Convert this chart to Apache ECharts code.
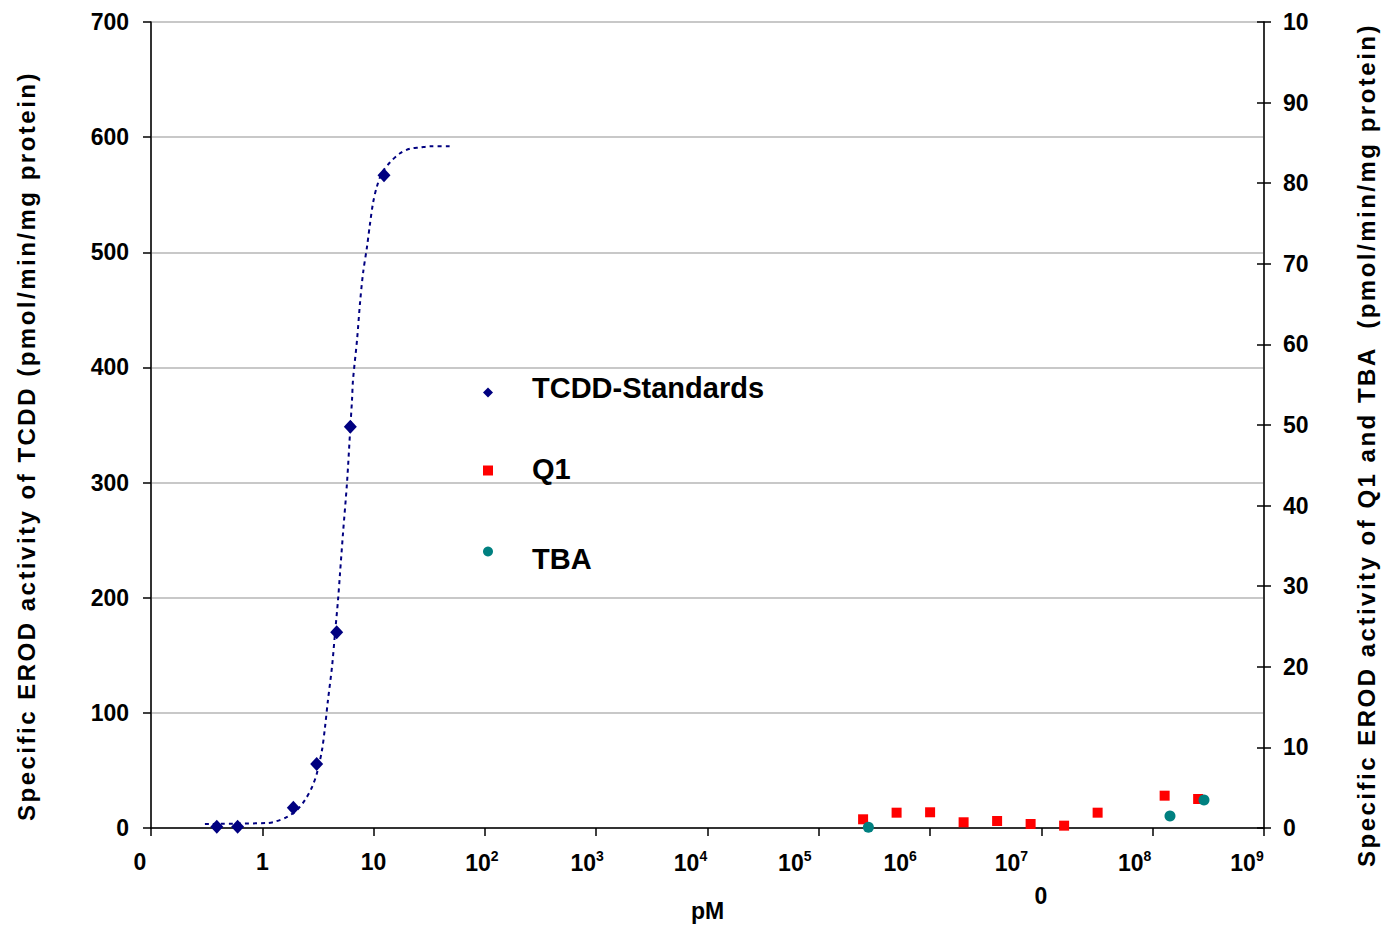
<!DOCTYPE html>
<html><head><meta charset="utf-8">
<script src="https://cdn.jsdelivr.net/npm/echarts@6/dist/echarts.min.js"></script>
<style>html,body{margin:0;padding:0;background:#fff}#c{width:1386px;height:928px}</style>
</head><body><div id="c"></div>
<script>
// ---- data ----
const tcddConc = [0.39, 0.6, 1.9, 3.08, 4.66, 6.18, 12.4];
const tcddActivity = [1, 1, 17.5, 55.6, 170, 348.5, 567];
const fitConc = [0.305, 1.10, 1.30, 1.67, 2.05, 2.42, 2.80, 3.10, 3.44, 3.66, 3.89, 4.23, 4.50, 4.79, 4.99, 5.31, 5.77, 6.18, 6.40, 6.53, 7.10, 7.55, 8.04, 8.73, 9.29, 9.89, 10.7, 11.9, 14.0, 17.3, 21.2, 26.1, 32.1, 50.6];
const fitActivity = [3.5, 4.3, 5.5, 9.6, 15.6, 24.3, 35.6, 47.8, 67.7, 87.7, 111, 140, 169, 198, 221, 256, 300, 348, 372, 389, 424, 456, 482, 505, 525, 543, 557, 569, 578, 586, 590, 591, 592, 592];
const q1Conc = [2.5e5, 5e5, 1e6, 2e6, 4e6, 8e6, 1.6e7, 3.2e7, 1.28e8, 2.56e8];
const q1Activity = [1.08, 1.9, 1.95, 0.71, 0.87, 0.5, 0.29, 1.9, 4.01, 3.6];
const tbaConc = [2.79e5, 1.43e8, 2.89e8];
const tbaActivity = [0.1, 1.49, 3.47];

const xTickExponents = [-1, 0, 1, 2, 3, 4, 5, 6, 7, 8, 9];
const xTickMain = ['0', '1', '10', '10', '10', '10', '10', '10', '10', '10', '10'];
const xTickSup  = ['', '', '', '2', '3', '4', '5', '6', '7', '8', '9'];
const rightTickValues = [0, 10, 20, 30, 40, 50, 60, 70, 80, 90, 100];
const rightTickLabels = ['0', '10', '20', '30', '40', '50', '60', '70', '80', '90', '10'];
const seriesNames = ['TCDD-Standards', 'Q1', 'TBA'];
const leftTitle = 'Specific EROD activity of TCDD (pmol/min/mg protein)';
const rightTitle = 'Specific EROD activity of Q1 and TBA  (pmol/min/mg protein)';
const xName = 'pM';
const extraLabel = '0';

// ---- layout (not data) ----
const xLabelSpacer = [22, 0, 0, 6, 18, 34, 48, 60, 60, 36, 34];
const FONT = "'Liberation Sans', Arial, sans-serif";
const legendIcons = ['diamond', 'rect', 'circle'];
const legendTops = [368, 449, 525];
const legendTextPad = [[0, 0, 10, 0], [0, 0, 4, 0], [14, 0, 0, 0]];

const pairs = (xs, ys) => xs.map((x, i) => [x, ys[i]]);

const rich = {
  m: {fontSize: 23, fontWeight: 'bold', fontFamily: FONT, color: '#000', lineHeight: 26},
  s: {fontSize: 14, fontWeight: 'bold', fontFamily: FONT, color: '#000', padding: [0, 0, 13, 0]}
};
xLabelSpacer.forEach((w, i) => { if (w > 0) rich['g' + i] = {width: w, fontSize: 10}; });

const legends = seriesNames.map((n, i) => ({
  orient: 'vertical', left: 478, top: legendTops[i], itemWidth: 10, itemHeight: 10,
  data: [{name: n, icon: legendIcons[i]}],
  formatter: function (name) { return '{g| }{t|' + name + '}'; },
  textStyle: {rich: {
    g: {width: 34, fontSize: 10},
    t: {fontSize: 29, fontWeight: 'bold', fontFamily: FONT, color: '#000', lineHeight: 32, padding: legendTextPad[i]}
  }},
  selectedMode: false
}));

const chart = echarts.init(document.getElementById('c'), null, {renderer: 'svg'});
chart.setOption({
  animation: false,
  backgroundColor: '#fff',
  grid: {left: 151, right: 122, top: 22, bottom: 100, show: true, borderColor: '#8c8c8c', borderWidth: 1},
  xAxis: {
    type: 'log', logBase: 10, min: 0.1, max: 1e9, interval: 1, splitNumber: 10,
    name: xName, nameLocation: 'middle', nameGap: 71,
    nameTextStyle: {fontSize: 23, fontWeight: 'bold', fontFamily: FONT, color: '#000'},
    axisLine: {lineStyle: {color: '#000', width: 1.5}},
    axisTick: {show: true, length: 8, lineStyle: {color: '#000', width: 1.5}},
    splitLine: {show: false},
    minorTick: {show: false},
    axisLabel: {
      margin: 21, rich: rich,
      formatter: function (v) {
        const e = Math.round(Math.log10(v));
        const i = xTickExponents.indexOf(e);
        if (i < 0) return '';
        let s = '{m|' + xTickMain[i] + '}';
        if (xTickSup[i]) s += '{s|' + xTickSup[i] + '}';
        if (xLabelSpacer[i] > 0) s += '{g' + i + '| }';
        return s;
      }
    }
  },
  yAxis: [
    {
      type: 'value', position: 'left', min: 0, max: 700, interval: 100,
      axisLine: {show: true, lineStyle: {color: '#000', width: 1.5}},
      axisTick: {show: true, length: 8, lineStyle: {color: '#000', width: 1.5}},
      axisLabel: {margin: 22, fontSize: 23, fontWeight: 'bold', fontFamily: FONT, color: '#000'},
      splitLine: {show: true, lineStyle: {color: '#c8c8c8', width: 2}}
    },
    {
      type: 'value', position: 'right', offset: 0, min: 0, max: 100, interval: 10,
      axisLine: {show: true, lineStyle: {color: '#000', width: 1.5}},
      axisTick: {show: true, length: 7, lineStyle: {color: '#000', width: 1.5}},
      axisLabel: {margin: 19, fontSize: 23, fontWeight: 'bold', fontFamily: FONT, color: '#000',
        formatter: function (v) { const i = rightTickValues.indexOf(Math.round(v)); return i < 0 ? '' : rightTickLabels[i]; }},
      splitLine: {show: false}
    },
    {
      type: 'value', position: 'right', offset: 0, min: 0, max: 100, interval: 10,
      axisLine: {show: false},
      axisTick: {show: true, inside: true, length: 7, lineStyle: {color: '#000', width: 1.5}},
      axisLabel: {show: false},
      splitLine: {show: false}
    }
  ],
  legend: legends,
  series: [
    {
      name: 'TCDD fit', type: 'line', xAxisIndex: 0, yAxisIndex: 0,
      data: pairs(fitConc, fitActivity), smooth: 0.3, showSymbol: false, symbol: 'none',
      lineStyle: {color: '#000080', width: 2, type: [4, 4]}, z: 2, silent: true
    },
    {
      name: seriesNames[0], type: 'scatter', yAxisIndex: 0, data: pairs(tcddConc, tcddActivity),
      symbol: 'diamond', symbolSize: [13, 14], itemStyle: {color: '#000080', opacity: 1}, z: 3
    },
    {
      name: seriesNames[1], type: 'scatter', yAxisIndex: 1, data: pairs(q1Conc, q1Activity),
      symbol: 'rect', symbolSize: 10, itemStyle: {color: '#ff0000', opacity: 1}, z: 3
    },
    {
      name: seriesNames[2], type: 'scatter', yAxisIndex: 1, data: pairs(tbaConc, tbaActivity),
      symbol: 'circle', symbolSize: 11, itemStyle: {color: '#008080', opacity: 1}, z: 4
    }
  ],
  graphic: [
    {type: 'text', x: 26, y: 446, rotation: Math.PI / 2,
     style: {text: leftTitle, font: 'bold 24px ' + FONT, fill: '#000', textAlign: 'center', textVerticalAlign: 'middle'}},
    {type: 'text', x: 1366, y: 445, rotation: Math.PI / 2,
     style: {text: rightTitle, font: 'bold 24px ' + FONT, fill: '#000', textAlign: 'center', textVerticalAlign: 'middle'}},
    {type: 'text', x: 1041, y: 896,
     style: {text: extraLabel, font: 'bold 23px ' + FONT, fill: '#000', textAlign: 'center', textVerticalAlign: 'middle'}}
  ]
});

function spaceTitles() {
  document.querySelectorAll('#c svg text').forEach(function (t) {
    if (t.textContent.indexOf('Specific') === 0) {
      t.setAttribute('letter-spacing', '2.5');
      t.style.letterSpacing = '2.5px';
    }
  });
}
chart.on('finished', spaceTitles);
spaceTitles();
setTimeout(spaceTitles, 30);
</script>
</body></html>
